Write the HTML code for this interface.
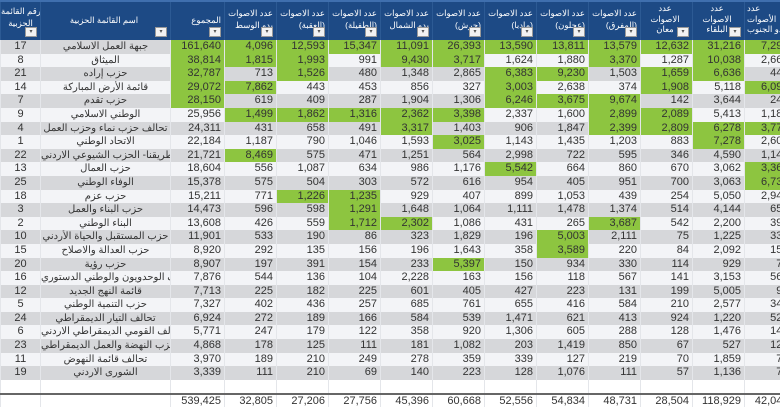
<!DOCTYPE html>
<html><head><meta charset="utf-8">
<style>
html,body{margin:0;padding:0;width:780px;height:405px;overflow:hidden;background:#fff}
table{position:absolute;left:0;top:0;border-collapse:collapse;table-layout:fixed;width:796px;font-family:"Liberation Sans","Noto Sans CJK SC",sans-serif;font-size:11px;color:#333}
td,th{padding:0 3px 0 0;white-space:nowrap;overflow:hidden;text-align:right;border-left:1px solid #e4e6ea;box-sizing:border-box}
thead th{height:39px;background:#1d4a85;color:#fff;font-weight:normal;font-size:8.5px;line-height:12px;vertical-align:top;padding:5px 3px 0 0;position:relative;border-left:1px solid #2c5a94;border-top:2px solid #3f6fae}
thead th i{position:absolute;right:3px;bottom:3px;width:10px;height:8px;background:#f2f2f2;border:1px solid #999;font-style:normal;font-size:6px;color:#555;line-height:8px;text-align:center}
thead th.s{font-size:8.5px;line-height:10.5px;padding-top:1px;text-align:center}
tbody tr{height:13.6px}
tbody td{line-height:13.6px;height:13.6px}
tr.a td{background:#d6d7da}
tr.b td{background:#f3f4f7}
td.g{background:#8dc540 !important}
td.n{text-align:center;padding:0}
td.m{text-align:center;padding:0;font-size:10px}
tr.e td{height:14px;background:#fff}
tr.t td{border-top:2px solid #666;background:#fff;height:12px;line-height:12px}
td:last-child{padding-right:8px}
</style></head><body>
<table>
<colgroup><col style="width:40px"><col style="width:130px"><col style="width:54px"><col span="11" style="width:52px"></colgroup>
<thead><tr>
<th style="text-align:center;padding:3px 0 0 0">رقم القائمة<br>الحزبية<i>▾</i></th>
<th style="text-align:center;padding-top:12px">اسم القائمة الحزبية<i>▾</i></th>
<th style="padding-top:12px">المجموع<i>▾</i></th>
<th>عدد الاصوات<br>بدو الوسط<i>▾</i></th>
<th>عدد الاصوات<br>(العقبة)<i>▾</i></th>
<th>عدد الاصوات<br>(الطفيلة)<i>▾</i></th>
<th>عدد الاصوات<br>بدو الشمال<i>▾</i></th>
<th>عدد الاصوات<br>(جرش)<i>▾</i></th>
<th>عدد الاصوات<br>(مادبا)<i>▾</i></th>
<th>عدد الاصوات<br>(عجلون)<i>▾</i></th>
<th>عدد الاصوات<br>(المفرق)<i>▾</i></th>
<th class="s">عدد<br>الاصوات<br>معان<i>▾</i></th>
<th class="s">عدد<br>الاصوات<br>البلقاء<i>▾</i></th>
<th class="s" style="text-align:left;padding-left:2px">عدد<br>الأصوات<br>بدو الجنوب<i>▾</i></th>
</tr></thead>
<tbody>
<tr class="a"><td class="n">17</td><td class="m">جبهة العمل الاسلامي</td><td class="g">161,640</td><td class="g">4,096</td><td class="g">12,593</td><td class="g">15,347</td><td class="g">11,091</td><td class="g">26,393</td><td class="g">13,590</td><td class="g">13,811</td><td class="g">13,579</td><td class="g">12,632</td><td class="g">31,216</td><td class="g">7,293</td></tr>
<tr class="b"><td class="n">8</td><td class="m">الميثاق</td><td class="g">38,814</td><td class="g">1,815</td><td class="g">1,993</td><td>991</td><td class="g">9,430</td><td class="g">3,717</td><td>1,624</td><td>1,880</td><td class="g">3,370</td><td>1,287</td><td class="g">10,038</td><td>2,665</td></tr>
<tr class="a"><td class="n">21</td><td class="m">حزب إراده</td><td class="g">32,787</td><td>713</td><td class="g">1,526</td><td>480</td><td>1,348</td><td>2,865</td><td class="g">6,383</td><td class="g">9,230</td><td>1,503</td><td class="g">1,659</td><td class="g">6,636</td><td>444</td></tr>
<tr class="b"><td class="n">14</td><td class="m">قائمة الأرض المباركة</td><td class="g">29,072</td><td class="g">7,862</td><td>443</td><td>453</td><td>856</td><td>327</td><td class="g">3,003</td><td>2,638</td><td>374</td><td class="g">1,908</td><td>5,118</td><td class="g">6,096</td></tr>
<tr class="a"><td class="n">7</td><td class="m">حزب تقدم</td><td class="g">28,150</td><td>619</td><td>409</td><td>287</td><td>1,904</td><td>1,306</td><td class="g">6,246</td><td class="g">3,675</td><td class="g">9,674</td><td>142</td><td>3,644</td><td>244</td></tr>
<tr class="b"><td class="n">9</td><td class="m">الوطني الاسلامي</td><td>25,956</td><td class="g">1,499</td><td class="g">1,862</td><td class="g">1,316</td><td class="g">2,362</td><td class="g">3,398</td><td>2,337</td><td>1,600</td><td class="g">2,899</td><td class="g">2,089</td><td>5,413</td><td>1,181</td></tr>
<tr class="a"><td class="n">4</td><td class="m">تحالف حزب نماء وحزب العمل</td><td>24,311</td><td>431</td><td>658</td><td>491</td><td class="g">3,317</td><td>1,403</td><td>906</td><td>1,847</td><td class="g">2,399</td><td class="g">2,809</td><td class="g">6,278</td><td class="g">3,772</td></tr>
<tr class="b"><td class="n">1</td><td class="m">الاتحاد الوطني</td><td>22,184</td><td>1,187</td><td>790</td><td>1,046</td><td>1,593</td><td class="g">3,025</td><td>1,143</td><td>1,435</td><td>1,203</td><td>883</td><td class="g">7,278</td><td>2,601</td></tr>
<tr class="a"><td class="n">22</td><td class="m">طريقنا- الحزب الشيوعي الاردني</td><td>21,721</td><td class="g">8,469</td><td>575</td><td>471</td><td>1,251</td><td>564</td><td>2,998</td><td>722</td><td>595</td><td>346</td><td>4,590</td><td>1,140</td></tr>
<tr class="b"><td class="n">13</td><td class="m">حزب العمال</td><td>18,604</td><td>556</td><td>1,087</td><td>634</td><td>986</td><td>1,176</td><td class="g">5,542</td><td>664</td><td>860</td><td>670</td><td>3,062</td><td class="g">3,367</td></tr>
<tr class="a"><td class="n">25</td><td class="m">الوفاء الوطني</td><td>15,378</td><td>575</td><td>504</td><td>303</td><td>572</td><td>616</td><td>954</td><td>405</td><td>951</td><td>700</td><td>3,063</td><td class="g">6,735</td></tr>
<tr class="b"><td class="n">18</td><td class="m">حزب عزم</td><td>15,211</td><td>771</td><td class="g">1,226</td><td class="g">1,235</td><td>929</td><td>407</td><td>899</td><td>1,053</td><td>439</td><td>254</td><td>5,050</td><td>2,948</td></tr>
<tr class="a"><td class="n">3</td><td class="m">حزب البناء والعمل</td><td>14,473</td><td>596</td><td>598</td><td class="g">1,291</td><td>1,648</td><td>1,064</td><td>1,111</td><td>1,478</td><td>1,374</td><td>514</td><td>4,144</td><td>655</td></tr>
<tr class="b"><td class="n">2</td><td class="m">البناء الوطني</td><td>13,608</td><td>426</td><td>559</td><td class="g">1,712</td><td class="g">2,302</td><td>1,086</td><td>431</td><td>265</td><td class="g">3,687</td><td>542</td><td>2,200</td><td>394</td></tr>
<tr class="a"><td class="n">10</td><td class="m">حزب المستقبل والحياة الأردني</td><td>11,901</td><td>533</td><td>190</td><td>86</td><td>323</td><td>1,829</td><td>196</td><td class="g">5,003</td><td>2,111</td><td>75</td><td>1,225</td><td>336</td></tr>
<tr class="b"><td class="n">15</td><td class="m">حزب العدالة والاصلاح</td><td>8,920</td><td>292</td><td>135</td><td>156</td><td>196</td><td>1,643</td><td>358</td><td class="g">3,589</td><td>220</td><td>84</td><td>2,092</td><td>155</td></tr>
<tr class="a"><td class="n">20</td><td class="m">حزب رؤية</td><td>8,907</td><td>197</td><td>391</td><td>154</td><td>233</td><td class="g">5,397</td><td>150</td><td>934</td><td>330</td><td>114</td><td>929</td><td>78</td></tr>
<tr class="b"><td class="n">16</td><td class="m">تحالف الوحدويون والوطني الدستوري</td><td>7,876</td><td>544</td><td>136</td><td>104</td><td>2,228</td><td>163</td><td>156</td><td>118</td><td>567</td><td>141</td><td>3,153</td><td>560</td></tr>
<tr class="a"><td class="n">12</td><td class="m">قائمة النهج الجديد</td><td>7,713</td><td>225</td><td>182</td><td>225</td><td>601</td><td>405</td><td>427</td><td>223</td><td>131</td><td>199</td><td>5,005</td><td>96</td></tr>
<tr class="b"><td class="n">5</td><td class="m">حزب التنمية الوطني</td><td>7,327</td><td>402</td><td>436</td><td>257</td><td>685</td><td>761</td><td>655</td><td>416</td><td>584</td><td>210</td><td>2,577</td><td>344</td></tr>
<tr class="a"><td class="n">24</td><td class="m">تحالف التيار الديمقراطي</td><td>6,924</td><td>272</td><td>189</td><td>166</td><td>584</td><td>539</td><td>1,471</td><td>621</td><td>413</td><td>924</td><td>1,220</td><td>525</td></tr>
<tr class="b"><td class="n">6</td><td class="m">التحالف القومي الديمقراطي الاردني</td><td>5,771</td><td>247</td><td>179</td><td>122</td><td>358</td><td>920</td><td>1,306</td><td>605</td><td>288</td><td>128</td><td>1,476</td><td>143</td></tr>
<tr class="a"><td class="n">23</td><td class="m">حزب النهضة والعمل الديمقراطي</td><td>4,868</td><td>178</td><td>125</td><td>111</td><td>181</td><td>1,082</td><td>203</td><td>1,419</td><td>850</td><td>67</td><td>527</td><td>125</td></tr>
<tr class="b"><td class="n">11</td><td class="m">تحالف قائمة النهوض</td><td>3,970</td><td>189</td><td>210</td><td>249</td><td>278</td><td>359</td><td>339</td><td>127</td><td>219</td><td>70</td><td>1,859</td><td>71</td></tr>
<tr class="a"><td class="n">19</td><td class="m">الشورى الاردني</td><td>3,339</td><td>111</td><td>210</td><td>69</td><td>140</td><td>223</td><td>128</td><td>1,076</td><td>111</td><td>57</td><td>1,136</td><td>78</td></tr>
<tr class="e"><td></td><td></td><td></td><td></td><td></td><td></td><td></td><td></td><td></td><td></td><td></td><td></td><td></td><td></td></tr>
<tr class="t"><td></td><td></td><td>539,425</td><td>32,805</td><td>27,206</td><td>27,756</td><td>45,396</td><td>60,668</td><td>52,556</td><td>54,834</td><td>48,731</td><td>28,504</td><td>118,929</td><td>42,040</td></tr>
</tbody></table>
</body></html>
